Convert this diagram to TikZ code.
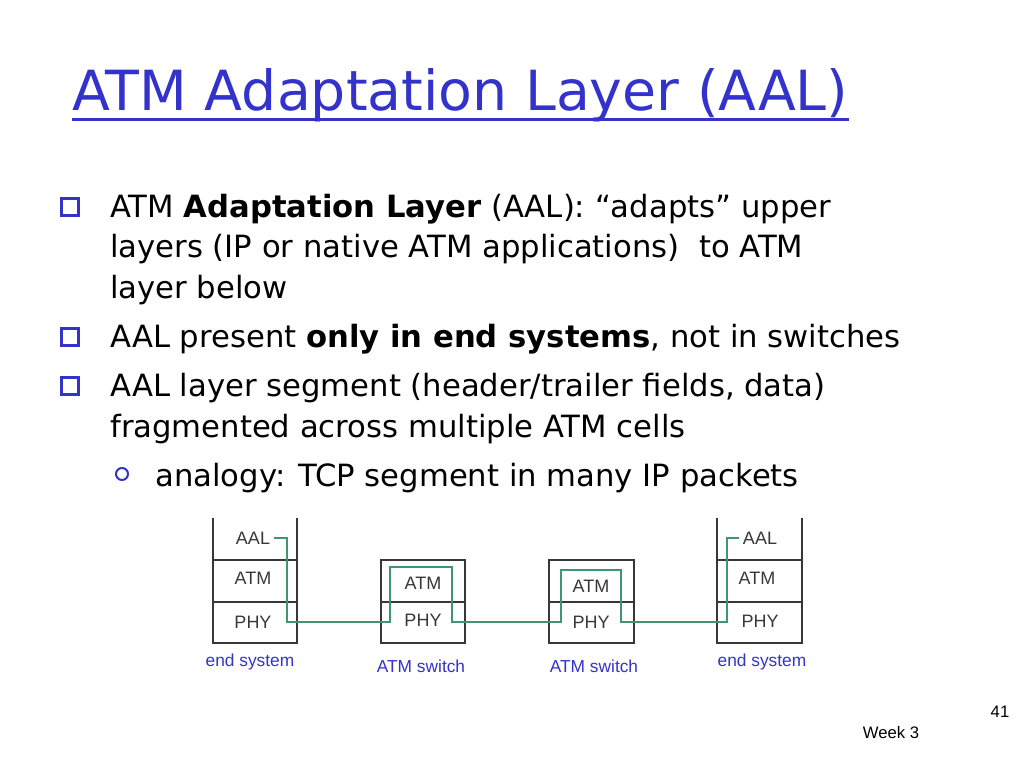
\documentclass[tikz,border=0pt]{standalone}
\usepackage{fontspec}
\setmainfont{DejaVu Sans}
\newfontfamily\labfont{Liberation Sans}
\definecolor{titleblue}{RGB}{51,51,204}
\definecolor{linkgreen}{RGB}{60,150,110}
\definecolor{labgray}{RGB}{55,55,55}

\begin{document}
\begin{tikzpicture}[x=0.75pt,y=-0.75pt]
  \tikzstyle{txt}=[anchor=base west, inner sep=0pt, font=\fontsize{23}{27}\selectfont]
  \tikzstyle{sqbullet}=[draw=titleblue, line width=1.8pt, minimum size=12.5pt, inner sep=0pt]
  \tikzstyle{rndbullet}=[circle, draw=titleblue, line width=1.5pt, minimum size=9pt, inner sep=0pt]
  \tikzstyle{box}=[draw=labgray, line width=0.8pt]
  \tikzstyle{lay}=[text=labgray, inner sep=3pt, font=\labfont\fontsize{13.5}{15}\selectfont]
  \tikzstyle{sysname}=[text=titleblue, inner sep=0pt, font=\labfont\fontsize{13}{15}\selectfont]
  \tikzstyle{link}=[draw=linkgreen, line width=0.9pt]

  \useasboundingbox (0,0) rectangle (1024,768);

  % title
  \node[anchor=base west, inner sep=0pt, text=titleblue,
        font=\fontsize{41.5}{48}\selectfont] (title) at (72,110) {ATM Adaptation Layer (AAL)};
  \draw[titleblue, line width=2.4pt] ([yshift=-7pt]title.base west) -- ([yshift=-7pt]title.base east);

  % bullets
  \node[sqbullet] (b1) at (70,207) {};
  \node[sqbullet] (b2) at (70,337) {};
  \node[sqbullet] (b3) at (70,386) {};
  \node[rndbullet] (b4) at (122,474) {};

  \node[txt] (l1) at (110,217) {ATM \textbf{Adaptation Layer} (AAL): “adapts” upper};
  \node[txt] (l2) at (110,257) {layers (IP or native ATM applications)\ \ to ATM};
  \node[txt] (l3) at (110,298) {layer below};
  \node[txt] (l4) at (110,347) {AAL present \textbf{only in end systems}, not in switches};
  \node[txt] (l5) at (110,396) {AAL layer segment (header/trailer fields, data)};
  \node[txt] (l6) at (110,437) {fragmented across multiple ATM cells};
  \node[txt] (l7) at (155,486) {analogy: TCP segment in many IP packets};

  % stacks
  \draw[box] (213,518) -- (213,643) -- (297,643) -- (297,518)
             (213,560) -- (297,560) (213,602) -- (297,602);
  \draw[box] (381,560) rectangle (465,643) (381,602) -- (465,602);
  \draw[box] (549,560) rectangle (634,643) (549,602) -- (634,602);
  \draw[box] (717,518) -- (717,643) -- (802,643) -- (802,518)
             (717,560) -- (802,560) (717,602) -- (802,602);

  \node[lay] (es1aal) at (253,538) {AAL};
  \node[lay] (es1atm) at (253,578) {ATM};
  \node[lay] (es1phy) at (253,622) {PHY};
  \node[lay] (sw1atm) at (423,583) {ATM};
  \node[lay] (sw1phy) at (423,620) {PHY};
  \node[lay] (sw2atm) at (591,586) {ATM};
  \node[lay] (sw2phy) at (591,622) {PHY};
  \node[lay] (es2aal) at (760,538) {AAL};
  \node[lay] (es2atm) at (757,578) {ATM};
  \node[lay] (es2phy) at (760,621) {PHY};

  \node[sysname] (es1) at (250,662) {end system};
  \node[sysname] (sw1) at (421,666) {ATM switch};
  \node[sysname] (sw2) at (594,666) {ATM switch};
  \node[sysname] (es2) at (762,662) {end system};

  % path of the data
  \coordinate (es1drop) at (287,622);
  \coordinate (sw1in)   at (390,622);
  \coordinate (sw1top)  at (452,567);
  \coordinate (sw2in)   at (561,622);
  \coordinate (sw2top)  at (621,570);
  \coordinate (es2rise) at (727,622);
  \draw[link] (es1aal.east) -| (es1drop) -- (sw1in) |- (sw1top) |- (sw2in)
              |- (sw2top) |- (es2rise) |- (es2aal.west);

  % footer
  \node[inner sep=0pt, font=\labfont\fontsize{12.5}{14}\selectfont] (page) at (1000,712) {41};
  \node[inner sep=0pt, font=\labfont\fontsize{12.5}{14}\selectfont] (week) at (891,733) {Week 3};
\end{tikzpicture}
\end{document}
